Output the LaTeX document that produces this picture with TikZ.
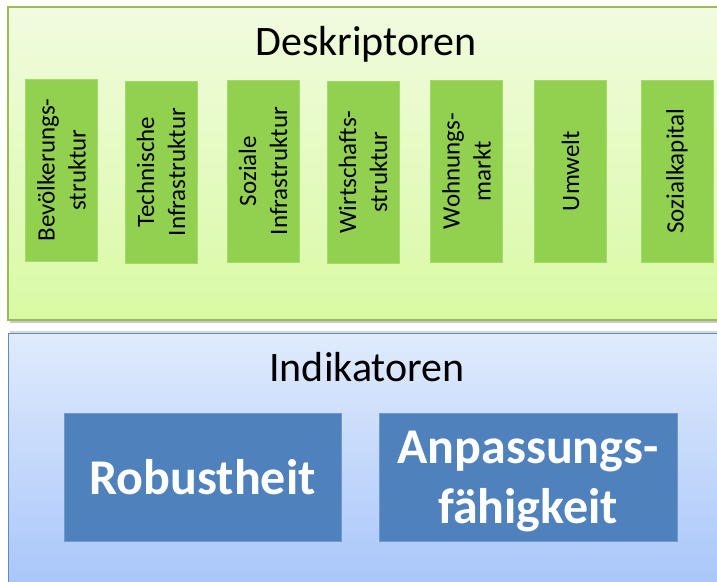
\documentclass[tikz,border=0pt]{standalone}
\usepackage{fontspec}
\setmainfont{Carlito}
\definecolor{gtop}{HTML}{F1FBDF}
\definecolor{gbot}{HTML}{D9FAA4}
\definecolor{btop}{HTML}{E0EBFC}
\definecolor{bbot}{HTML}{A6C4FA}
\definecolor{gbox}{HTML}{92D050}
\definecolor{gboxline}{HTML}{A3DA6C}
\definecolor{gpanelline}{HTML}{9BBB59}
\definecolor{bbox}{HTML}{4F81BD}
\definecolor{bboxline}{HTML}{6E9AD0}
\definecolor{bpanelline}{HTML}{5B8CC8}
\tikzset{
  descbox/.style={rotate=90, fill=gbox, draw=gboxline, line width=0.6pt,
    minimum width=182pt, minimum height=72pt, inner sep=0pt, align=center,
    font=\fontsize{25}{31}\selectfont},
  indbox/.style={fill=bbox, draw=bboxline, line width=0.6pt, inner sep=0pt,
    minimum height=128pt},
  indtext/.style={align=center, text=white, inner sep=0pt,
    font=\fontsize{50}{60}\selectfont\bfseries},
  paneltitle/.style={anchor=base, font=\fontsize{42}{50}\selectfont}
}
\begin{document}
\begin{tikzpicture}[x=1pt,y=-1pt]
\useasboundingbox (0,0) rectangle (717,581);
\fill[white] (0,0) rectangle (717,581);
% shadows
\fill[black!35, opacity=0.6] (10,9) rectangle (740,323);
\fill[black!25, opacity=0.6] (10,331) rectangle (740,600);
% green panel
\shade[top color=gtop, bottom color=gbot] (8,7) rectangle (740,320);
\draw[gpanelline, line width=1.2pt] (740,7) -- (8,7) -- (8,320) -- (740,320);
% blue panel
\shade[top color=btop, bottom color=bbot] (8,333) rectangle (740,600);
\draw[bpanelline, line width=1pt] (740,333) -- (8,333) -- (8,600);
% titles
\node[paneltitle] (desk) at (366,55) {Deskriptoren};
\node[paneltitle] (ind) at (367,381) {Indikatoren};
% descriptor boxes
\node[descbox] (d1) at (61.5,170) {Bevölkerungs-\\struktur};
\node[descbox] (d2) at (161,172) {Technische\\Infrastruktur};
\node[descbox] (d3) at (263,171) {Soziale\\Infrastruktur};
\node[descbox] (d4) at (363,172) {Wirtschafts-\\struktur};
\node[descbox] (d5) at (466.5,171) {Wohnungs-\\markt};
\node[descbox] (d6) at (570.5,171) {Umwelt};
\node[descbox] (d7) at (677,171) {Sozialkapital};
% indicator boxes
\node[indbox, minimum width=277pt] (rob) at (202.5,477) {};
\node[indtext] (robt) at (rob.center) {Robustheit};
\node[indbox, minimum width=298pt] (anp) at (528,477) {};
\node[indtext, yshift=-5pt] (anpt) at (anp.center) {Anpassungs-\\fähigkeit};
\end{tikzpicture}
\end{document}
